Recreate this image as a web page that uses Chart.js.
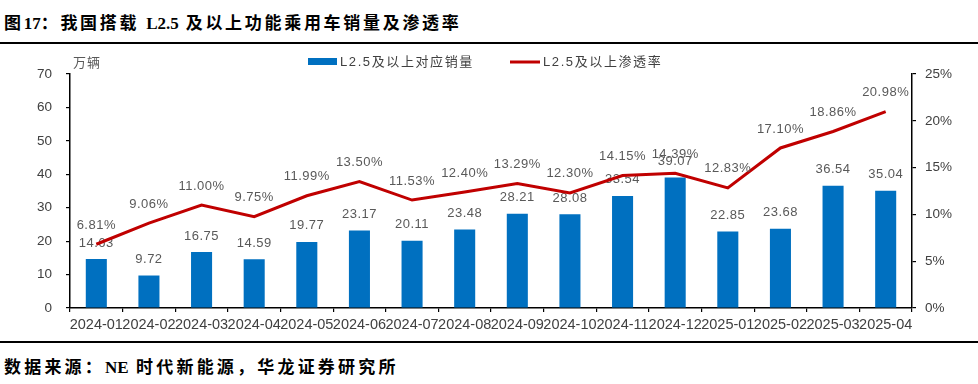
<!DOCTYPE html>
<html>
<head>
<meta charset="utf-8">
<script src="https://cdn.jsdelivr.net/npm/chart.js@4.4.0/dist/chart.umd.min.js"></script>
<style>
  body { margin: 0; background: #fff; width: 978px; height: 384px; position: relative; overflow: hidden; }
  .title { position: absolute; left: 4px; top: 9px; font: bold 17px "Liberation Serif", "Noto Sans CJK SC"; letter-spacing: 2.7px; color: #000; white-space: nowrap; }
  .rule { position: absolute; left: 0; width: 978px; height: 1.5px; background: #000; }
  .src { position: absolute; left: 4px; top: 353px; font: bold 17px "Liberation Serif", "Noto Sans CJK SC"; letter-spacing: 3.2px; color: #000; white-space: nowrap; }
  .lat { letter-spacing: 0; }
  #chart { position: absolute; left: 0; top: 45px; }
</style>
</head>
<body>
<div class="title">图<span class="lat">17</span>：我国搭载 <span class="lat">L2.5</span> 及以上功能乘用车销量及渗透率</div>
<div class="rule" style="top:42px"></div>
<canvas id="chart" width="978" height="295"></canvas>
<div class="rule" style="top:341px"></div>
<div class="src">数据来源：<span class="lat">NE</span> 时代新能源，华龙证券研究所</div>

<script>
// months
var months = ['2024-01','2024-02','2024-03','2024-04','2024-05','2024-06','2024-07','2024-08',
              '2024-09','2024-10','2024-11','2024-12','2025-01','2025-02','2025-03','2025-04'];
// 销量 (万辆)
var sales = [14.63, 9.72, 16.75, 14.59, 19.77, 23.17, 20.11, 23.48,
             28.21, 28.08, 33.54, 39.07, 22.85, 23.68, 36.54, 35.04];
// 渗透率 (%)
var rate = [6.81, 9.06, 11.00, 9.75, 11.99, 13.50, 11.53, 12.40,
            13.29, 12.30, 14.15, 14.39, 12.83, 17.10, 18.86, 20.98];

var salesName = 'L2.5及以上对应销量';
var rateName = 'L2.5及以上渗透率';
var blue = '#0070C0';
var red = '#C00000';
var grey = '#595959';
var tickFont = { family: 'Liberation Sans', size: 13.5 };

//labels + legend drawn on canvas
var labelPlugin = {
    id: 'labels',
    afterDatasetDraw: function(chart, args){
        if (args.index !== 0) return;
        var ctx = chart.ctx;
        ctx.save();
        ctx.font = '13px "Liberation Sans"';
        ctx.letterSpacing = '0.5px';
        ctx.fillStyle = grey;
        ctx.textAlign = 'center';
        ctx.textBaseline = 'middle';
        chart.getDatasetMeta(0).data.forEach(function(bar, i){
            ctx.fillText(sales[i].toFixed(2), bar.x, bar.y - 16);
        });
        ctx.restore();
    },
    afterDatasetsDraw: function(chart){
        var ctx = chart.ctx;
        ctx.save();
        ctx.font = '13px "Liberation Sans"';
        ctx.letterSpacing = '0.5px';
        ctx.fillStyle = grey;
        ctx.textAlign = 'center';
        ctx.textBaseline = 'middle';
        chart.getDatasetMeta(1).data.forEach(function(pt, i){
            ctx.fillText(rate[i].toFixed(2) + '%', pt.x, pt.y - 19);
        });

        // legend
        ctx.textAlign = 'left';
        ctx.font = '13px "Liberation Sans", "Noto Sans CJK SC"';
        ctx.letterSpacing = '1.6px';
        ctx.fillStyle = blue;
        ctx.fillRect(308, 13, 29, 7);
        ctx.fillStyle = '#404040';
        ctx.fillText(salesName, 340, 17);
        ctx.strokeStyle = red;
        ctx.lineWidth = 3;
        ctx.beginPath();
        ctx.moveTo(510, 17);
        ctx.lineTo(540, 17);
        ctx.stroke();
        ctx.fillText(rateName, 543, 17);

        // unit
        ctx.font = '13px "Noto Sans CJK SC"';
        ctx.letterSpacing = '1px';
        ctx.fillStyle = grey;
        ctx.fillText('万辆', 73, 17);
        ctx.restore();
    }
};

var ctx = document.getElementById('chart');

var chart = new Chart(ctx, {
    type: 'bar',
    data: {
        labels: months,
        datasets: [{
            type: 'bar',
            label: salesName,
            data: sales,
            backgroundColor: blue,
            barPercentage: 0.4,
            categoryPercentage: 1,
            yAxisID: 'y',
            order: 1
        }, {
            type: 'line',
            label: rateName,
            data: rate,
            borderColor: red,
            borderWidth: 3,
            pointRadius: 0,
            tension: 0,
            yAxisID: 'y1',
            order: 0
        }]
    },
    options: {
        responsive: false,
        animation: false,
        layout: { padding: { top: 29, left: 0, right: 0, bottom: 0 } },
        plugins: {
            legend: { display: false },
            tooltip: { enabled: false }
        },
        scales: {
            x: {
                grid: { drawOnChartArea: false, color: '#000', tickLength: 4, lineWidth: 1.2 },
                border: { color: '#000', width: 1.5 },
                ticks: { color: '#404040', font: { family: 'Liberation Sans', size: 14.5 }, autoSkip: false, maxRotation: 0, padding: 4 },
                afterFit: function(scale){ scale.height = 32; }
            },
            y: {
                position: 'left',
                min: 0, max: 70,
                grid: { drawOnChartArea: false, color: '#000', tickLength: 4, lineWidth: 1.2 },
                border: { color: '#000', width: 1.5 },
                ticks: { stepSize: 10, color: '#404040', font: tickFont, padding: 14 },
                afterFit: function(scale){ scale.width = 70; }
            },
            y1: {
                position: 'right',
                min: 0, max: 25,
                grid: { drawOnChartArea: false, color: '#000', tickLength: 4, lineWidth: 1.2 },
                border: { color: '#000', width: 1.5 },
                ticks: {
                    stepSize: 5, color: '#404040', font: tickFont, padding: 9,
                    callback: function(v){ return v + '%'; }
                },
                afterFit: function(scale){ scale.width = 66; }
            }
        }
    },
    plugins: [labelPlugin]
});
</script>
</body>
</html>
